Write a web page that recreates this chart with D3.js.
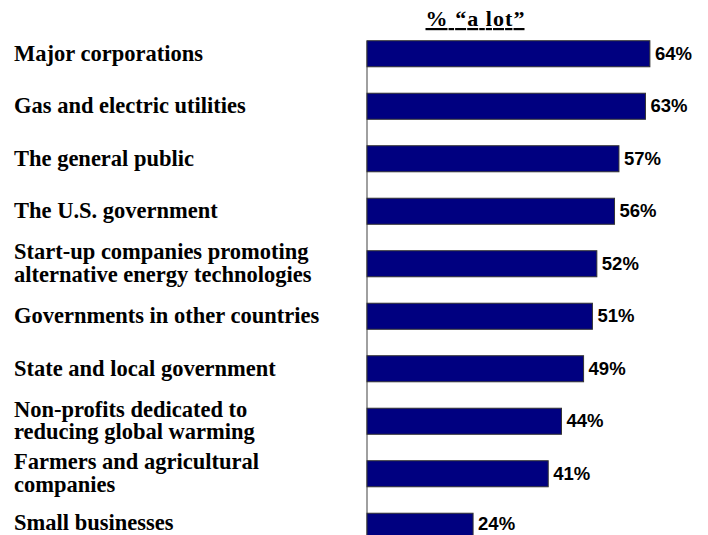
<!DOCTYPE html>
<html>
<head>
<meta charset="utf-8">
<script src="https://cdn.jsdelivr.net/npm/d3@7"></script>
<style>
html,body{margin:0;padding:0;background:#fff;}
svg{display:block;}
</style>
</head>
<body>
<svg id="chart" width="708" height="535"></svg>
<script>
const categories = [
  ["Major corporations"],
  ["Gas and electric utilities"],
  ["The general public"],
  ["The U.S. government"],
  ["Start-up companies promoting", "alternative energy technologies"],
  ["Governments in other countries"],
  ["State and local government"],
  ["Non-profits dedicated to", "reducing global warming"],
  ["Farmers and agricultural", "companies"],
  ["Small businesses"]
];
const values = [64, 63, 57, 56, 52, 51, 49, 44, 41, 24];
const title = "% \u201ca lot\u201d";

const W = 708, H = 535;
const svg = d3.select("#chart");
const keys = categories.map((c, i) => i);

const x = d3.scaleLinear().domain([0, 100]).range([367, 809]);
const y = d3.scaleBand().domain(keys).range([27.5, 552.5])
  .paddingInner(0.504).paddingOuter(0.252);

// axis line
svg.append("line")
  .attr("x1", x(0)).attr("x2", x(0))
  .attr("y1", y(0)).attr("y2", H)
  .attr("stroke", "#808080").attr("stroke-width", 1.5);

// bars
svg.selectAll("rect.bar").data(values).enter().append("rect")
  .attr("class", "bar")
  .attr("x", x(0))
  .attr("y", (d, i) => y(i))
  .attr("width", d => x(d) - x(0))
  .attr("height", y.bandwidth())
  .attr("fill", "#000080")
  .attr("stroke", "#333333")
  .attr("stroke-width", 1);

// value labels (centred on the visible part of each bar)
svg.selectAll("text.val").data(values).enter().append("text")
  .attr("class", "val")
  .attr("x", d => x(d) + 5)
  .attr("y", (d, i) => (y(i) + Math.min(y(i) + y.bandwidth(), H)) / 2 - 0.7)
  .attr("dy", "0.36em")
  .attr("font-family", "'Liberation Sans', Arial, sans-serif")
  .attr("font-weight", "bold")
  .attr("font-size", 18.5)
  .attr("fill", "#000")
  .text(d => d + "%");

// category labels
const fs = 22.5;
const lineH = 22.6;
const lab = svg.selectAll("text.cat").data(categories).enter().append("text")
  .attr("class", "cat")
  .attr("x", 14)
  .attr("y", (d, i) => Math.min(y(i) + y.bandwidth() / 2 - (d.length - 1) * lineH / 2 + 0.3 * fs, H - 5))
  .attr("font-family", "'Liberation Serif', 'Times New Roman', serif")
  .attr("font-weight", "bold")
  .attr("font-size", fs)
  .attr("fill", "#000");
lab.selectAll("tspan").data(d => d).enter().append("tspan")
  .attr("x", 14)
  .attr("dy", (d, j) => j === 0 ? 0 : lineH)
  .text(d => d);

// title
svg.append("text")
  .attr("x", 475)
  .attr("y", 26)
  .attr("text-anchor", "middle")
  .attr("font-family", "'Liberation Serif', 'Times New Roman', serif")
  .attr("font-weight", "bold")
  .attr("font-size", 22)
  .attr("textLength", 99)
  .attr("lengthAdjust", "spacing")
  .attr("text-decoration", "underline")
  .attr("fill", "#000")
  .text(title);
</script>
</body>
</html>
